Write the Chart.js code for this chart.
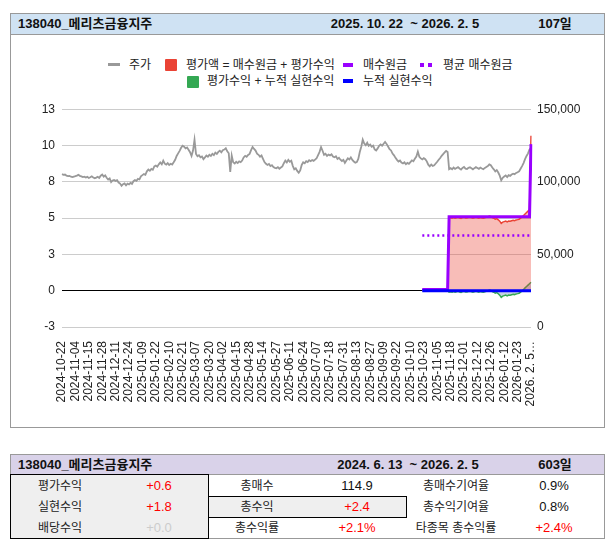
<!DOCTYPE html>
<html lang="ko">
<head>
<meta charset="utf-8">
<title>138040_메리츠금융지주</title>
<script src="https://cdn.jsdelivr.net/npm/chart.js@4.4.1/dist/chart.umd.min.js"></script>
<style>
  html, body { margin: 0; padding: 0; background: #fff; }
  body {
    width: 613px; height: 552px; position: relative; overflow: hidden;
    font-family: Arial, "Liberation Sans", "Noto Sans CJK KR", sans-serif;
    font-size: 12px; color: #222;
  }
  .box { position: absolute; box-sizing: border-box; }
  .t { position: absolute; white-space: nowrap; line-height: 16px; }
  .c { transform: translate(-50%, -50%); }
  .l { transform: translateY(-50%); }
  .b { font-weight: bold; font-size: 13px; color: #111; }
  .num { font-size: 13px; }
  .red { color: #ff0000; }
  .faint { color: #cccccc; }
  .blk { color: #111; }
  #chart { position: absolute; left: 11px; top: 95px; }
</style>
</head>
<body>

<!-- chart card -->
<div class="box" style="left:10px;top:13px;width:595px;height:415px;border:1px solid #999;"></div>
<div class="box" style="left:10px;top:13px;width:595px;height:22px;background:#cfe2f3;border:1px solid #999;"></div>
<span class="t b l" style="left:18px;top:24px;">138040_메리츠금융지주</span>
<span class="t b c" style="left:405px;top:24px;">2025. 10. 22&nbsp; ~ 2026. 2. 5</span>
<span class="t b c" style="left:555px;top:24px;">107일</span>

<!-- legend -->
<div class="box" style="left:108px;top:63px;width:12px;height:3px;background:#999;"></div>
<span class="t l" style="left:129px;top:65px;">주가</span>
<div class="box" style="left:165px;top:59px;width:12px;height:12px;background:#ea4335;border-radius:1px;"></div>
<span class="t l" style="left:186px;top:65px;">평가액 = 매수원금 + 평가수익</span>
<div class="box" style="left:343px;top:63px;width:10px;height:4px;background:#9900ff;"></div>
<span class="t l" style="left:363px;top:65px;">매수원금</span>
<div class="box" style="left:420px;top:63px;width:4px;height:4px;background:#9900ff;"></div>
<div class="box" style="left:428px;top:63px;width:4px;height:4px;background:#9900ff;"></div>
<span class="t l" style="left:443px;top:65px;">평균 매수원금</span>
<div class="box" style="left:187px;top:76px;width:12px;height:12px;background:#34a853;border-radius:1px;"></div>
<span class="t l" style="left:207px;top:81px;">평가수익 + 누적 실현수익</span>
<div class="box" style="left:343px;top:79px;width:10px;height:4px;background:#0000ff;"></div>
<span class="t l" style="left:363px;top:81px;">누적 실현수익</span>

<canvas id="chart" width="593" height="332"></canvas>

<!-- summary table -->
<div class="box" style="left:10px;top:454px;width:595px;height:85px;border:1px solid #999;"></div>
<div class="box" style="left:10px;top:454px;width:595px;height:21px;background:#d9d2e9;border:1px solid #999;"></div>
<div class="box" style="left:10px;top:474px;width:199px;height:65px;background:#efefef;border:1px solid #000;"></div>
<div class="box" style="left:208px;top:496px;width:199px;height:22px;background:#efefef;border:1px solid #000;"></div>
<span class="t b l" style="left:18px;top:464.5px;">138040_메리츠금융지주</span>
<span class="t b c" style="left:408px;top:464.5px;">2024. 6. 13&nbsp; ~ 2026. 2. 5</span>
<span class="t b c" style="left:555px;top:464.5px;">603일</span>

<span class="t c" style="left:60px;top:486px;">평가수익</span>
<span class="t c num red" style="left:159px;top:486px;">+0.6</span>
<span class="t c" style="left:257px;top:486px;">총매수</span>
<span class="t c num blk" style="left:357px;top:486px;">114.9</span>
<span class="t c" style="left:456px;top:486px;">총매수기여율</span>
<span class="t c num blk" style="left:554px;top:486px;">0.9%</span>

<span class="t c" style="left:60px;top:507px;">실현수익</span>
<span class="t c num red" style="left:159px;top:507px;">+1.8</span>
<span class="t c" style="left:257px;top:507px;">총수익</span>
<span class="t c num red" style="left:357px;top:507px;">+2.4</span>
<span class="t c" style="left:456px;top:507px;">총수익기여율</span>
<span class="t c num blk" style="left:554px;top:507px;">0.8%</span>

<span class="t c" style="left:60px;top:528px;">배당수익</span>
<span class="t c num faint" style="left:159px;top:528px;">+0.0</span>
<span class="t c" style="left:257px;top:528px;">총수익률</span>
<span class="t c num red" style="left:357px;top:528px;">+2.1%</span>
<span class="t c" style="left:456px;top:528px;">타종목 총수익률</span>
<span class="t c num red" style="left:554px;top:528px;">+2.4%</span>

<script>
// 1. tick labels (one date every 9 trading days)
const dateLabels = [
  '2024-10-22','2024-11-04','2024-11-15','2024-11-28','2024-12-11','2024-12-24',
  '2025-01-09','2025-01-22','2025-02-10','2025-02-21','2025-03-07','2025-03-20',
  '2025-04-02','2025-04-15','2025-04-28','2025-05-14','2025-05-27','2025-06-11',
  '2025-06-24','2025-07-07','2025-07-18','2025-07-31','2025-08-13','2025-08-27',
  '2025-09-09','2025-09-22','2025-10-10','2025-10-23','2025-11-05','2025-11-18',
  '2025-12-01','2025-12-12','2025-12-26','2026-01-12','2026-01-23','2026. 2. 5…'
];
const leftTicks = [-2.6, 0, 2.6, 5.2, 7.8, 10.4, 13];
const leftTickLabels = ['-3', '0', '3', '5', '8', '10', '13'];
const rightTicks = [0, 25000, 50000, 75000, 100000, 125000, 150000];
const rightTickLabels = ['0', '', '50,000', '', '100,000', '', '150,000'];

// 2. 주가 (daily close, right axis)
const price = [
  105300, 104800, 105000, 104200, 103900, 104100, 103500, 103200, 103600,
  103900, 104300, 104800, 104100, 103700, 103200, 103500, 102900, 103400,
  102600, 103100, 103800, 103000, 102400, 102900, 103500, 102700, 104200,
  105000, 103600, 104500, 102800, 101600, 102300, 99800, 100900, 101300,
  100600, 101100, 99500, 98800, 97300, 98400, 98900, 97600, 98800,
  98200, 99300, 98600, 100400, 101200, 100700, 102000, 101600, 103800,
  104600, 105300, 104800, 107200, 108400, 107600, 108900, 108300, 110600,
  111200, 110400, 112000, 113300, 112100, 114600, 112500, 111800, 112900,
  111600, 112400, 111900, 113500, 115200, 117800, 119600, 121300, 123400,
  124800, 124200, 123000, 123600, 122100, 120400, 117800, 121500, 129000,
  119200, 117600, 118300, 116900, 117400, 115600, 116800, 118100, 117300,
  118600, 117800, 119300, 118400, 120100, 119200, 120600, 121400, 120300,
  121800, 122200, 123100, 121000, 119600, 106800, 118000, 113400, 112600,
  113800, 112900, 114100, 113500, 114600, 116800, 117900, 117200, 118500,
  119200, 121800, 124000, 122600, 121500, 119400, 118600, 117300, 118100,
  115800, 113600, 112400, 111600, 112300, 110800, 111500, 110200, 109600,
  109300, 110100, 109000, 109800, 110600, 112800, 114600, 113400, 115100,
  113800, 114500, 111000, 108600, 109300, 107500, 106200, 107800, 111600,
  113400, 112800, 114200, 113600, 114900, 114200, 115000, 114400, 115300,
  116200, 118400, 120600, 123900, 121400, 118600, 119300, 117800, 118700,
  118200, 119000, 117400, 116900, 117600, 115800, 116600, 115200, 114300,
  115100, 113000, 114600, 116200, 115400, 116800, 115100, 114000, 113200,
  113600, 115800, 120500, 124200, 129000, 126400, 125200, 126900, 124800,
  125600, 124100, 124900, 122300, 121600, 123000, 124800, 125700, 124900,
  126200, 127400, 126100, 124300, 122500, 121600, 119400, 118200, 116500,
  115100, 113900, 114600, 113200, 112600, 113400, 112100, 113000, 112400,
  113600, 114800, 114200, 115900, 117400, 120800, 117200, 116100, 115400,
  116300, 115600, 114100, 111800, 110600, 111900, 110900, 111400, 112600,
  113800, 115200, 116400, 117900, 119100, 120200, 121300, 120600, 108700,
  109400, 108600, 109800, 108900, 109500, 110100, 109200, 108400, 109600,
  110200, 109100, 108800, 109700, 110000, 109300, 108600, 109400, 110100,
  109500, 108900, 109800, 109200, 108700, 109600, 110200, 110800, 112000,
  111400, 109800, 108600, 107200, 108100, 106400, 104200, 101000, 102800,
  103600, 104400, 103200, 104600, 104100, 105000, 105600, 105200, 106100,
  106600, 107200, 109000, 110800, 112900, 115600, 117800, 119600, 122300, 123200
];

// 3. holding series (left axis), from 2025-10-22 (index 242) to the end
const holdStart = 242;
const buyCost = [
  0.08, 0.08, 0.08, 0.08, 0.08, 0.08, 0.08, 0.08, 0.08,
  0.08, 0.08, 0.08, 0.08, 0.08, 0.08, 0.08, 0.08, 0.08,
  5.3, 5.3, 5.3, 5.3, 5.3, 5.3, 5.3, 5.3, 5.3, 5.3,
  5.3, 5.3, 5.3, 5.3, 5.3, 5.3, 5.3, 5.3, 5.3, 5.3,
  5.3, 5.3, 5.3, 5.3, 5.3, 5.3, 5.3, 5.3, 5.3, 5.3,
  5.3, 5.3, 5.3, 5.3, 5.3, 5.3, 5.3, 5.3, 5.3, 5.3,
  5.3, 5.3, 5.3, 5.3, 5.3, 5.3, 5.3, 5.3, 5.3, 5.3,
  5.3, 5.3, 5.3, 5.3, 5.3,
  10.5
];
const avgCost = [
  3.95, 3.95, 3.95, 3.95, 3.95, 3.95, 3.95, 3.95, 3.95, 3.95,
  3.95, 3.95, 3.95, 3.95, 3.95, 3.95, 3.95, 3.95, 3.95, 3.95,
  3.95, 3.95, 3.95, 3.95, 3.95, 3.95, 3.95, 3.95, 3.95, 3.95,
  3.95, 3.95, 3.95, 3.95, 3.95, 3.95, 3.95, 3.95, 3.95, 3.95,
  3.95, 3.95, 3.95, 3.95, 3.95, 3.95, 3.95, 3.95, 3.95, 3.95,
  3.95, 3.95, 3.95, 3.95, 3.95, 3.95, 3.95, 3.95, 3.95, 3.95,
  3.95, 3.95, 3.95, 3.95, 3.95, 3.95, 3.95, 3.95, 3.95, 3.95,
  3.95, 3.95, 3.95, 3.95
];
const evalValue = [
  0.08, 0.08, 0.08, 0.08, 0.08, 0.08, 0.08, 0.08, 0.08,
  0.08, 0.08, 0.08, 0.08, 0.08, 0.08, 0.08, 0.08, 0.08,
  5.19, 5.22, 5.19, 5.24, 5.20, 5.23, 5.26, 5.21, 5.18, 5.23,
  5.26, 5.21, 5.20, 5.24, 5.25, 5.22, 5.19, 5.22, 5.26, 5.23,
  5.20, 5.24, 5.21, 5.19, 5.23, 5.26, 5.29, 5.35, 5.32, 5.24,
  5.19, 5.12, 5.16, 5.08, 4.98, 4.82, 4.91, 4.95, 4.99, 4.93,
  4.99, 4.97, 5.01, 5.04, 5.02, 5.07, 5.09, 5.12, 5.20, 5.29,
  5.39, 5.50, 5.60, 5.70, 5.80,
  11.1
];
const totalGain = [
  0, 0, 0, 0, 0, 0, 0, 0, 0,
  0, 0, 0, 0, 0, 0, 0, 0, 0,
  -0.11, -0.08, -0.11, -0.06, -0.10, -0.07, -0.04, -0.09, -0.12, -0.07,
  -0.04, -0.09, -0.10, -0.06, -0.05, -0.08, -0.11, -0.08, -0.04, -0.07,
  -0.10, -0.06, -0.09, -0.11, -0.07, -0.04, -0.01, 0.05, 0.02, -0.06,
  -0.11, -0.18, -0.14, -0.22, -0.32, -0.48, -0.39, -0.35, -0.31, -0.37,
  -0.31, -0.33, -0.29, -0.26, -0.28, -0.23, -0.21, -0.18, -0.10, -0.01,
  0.09, 0.20, 0.30, 0.40, 0.50,
  0.60
];
const realized = [
  0, 0, 0, 0, 0, 0, 0, 0, 0, 0, 0, 0, 0, 0, 0, 0, 0, 0, 0, 0,
  0, 0, 0, 0, 0, 0, 0, 0, 0, 0, 0, 0, 0, 0, 0, 0, 0, 0, 0, 0,
  0, 0, 0, 0, 0, 0, 0, 0, 0, 0, 0, 0, 0, 0, 0, 0, 0, 0, 0, 0,
  0, 0, 0, 0, 0, 0, 0, 0, 0, 0, 0, 0, 0, 0
];

const pad = arr => new Array(holdStart).fill(null).concat(arr);
const categories = price.map((_, i) => (i % 9 === 0 ? dateLabels[i / 9] : ''));

Chart.defaults.font.family = 'Arial, "Liberation Sans", sans-serif';
Chart.defaults.font.size = 12;
Chart.defaults.color = '#222';

const lineBase = { pointRadius: 0, pointHoverRadius: 0, tension: 0, fill: false };

new Chart(document.getElementById('chart'), {
  type: 'line',
  data: {
    labels: categories,
    datasets: [
      { ...lineBase, label: '누적 실현수익', data: pad(realized), yAxisID: 'y',
        borderColor: '#0000ff', borderWidth: 3, order: 1 },
      { ...lineBase, label: '매수원금', data: pad(buyCost), yAxisID: 'y',
        borderColor: '#9900ff', borderWidth: 3, order: 2 },
      { ...lineBase, label: '평균 매수원금', data: pad(avgCost), yAxisID: 'y',
        borderColor: '#9900ff', borderWidth: 2.5, borderDash: [2, 3], order: 3 },
      { ...lineBase, label: '평가액 = 매수원금 + 평가수익', data: pad(evalValue), yAxisID: 'y',
        borderColor: '#ea4335', borderWidth: 1.5, fill: 'origin',
        backgroundColor: 'rgba(234, 67, 53, 0.35)', order: 4 },
      { ...lineBase, label: '평가수익 + 누적 실현수익', data: pad(totalGain), yAxisID: 'y',
        borderColor: '#34a853', borderWidth: 1.5, fill: 'origin',
        backgroundColor: 'rgba(90, 120, 180, 0.35)', order: 5 },
      { ...lineBase, label: '주가', data: price, yAxisID: 'y2',
        borderColor: '#999999', borderWidth: 1.8, order: 6 }
    ]
  },
  options: {
    responsive: false,
    animation: false,
    devicePixelRatio: 1,
    layout: { padding: { top: 11, left: 0, right: 0, bottom: 0 } },
    plugins: { legend: { display: false }, tooltip: { enabled: false } },
    scales: {
      x: {
        grid: { display: false },
        border: { display: false },
        afterBuildTicks: s => { s.ticks = s.ticks.filter(t => t.value % 9 === 0); },
        afterFit: s => { s.height = 100; },
        ticks: {
          autoSkip: false, minRotation: 90, maxRotation: 90, padding: 6,
          color: '#222', font: { size: 12 },
          callback: function (v) { return this.getLabelForValue(v); }
        }
      },
      y: {
        position: 'left',
        min: -2.6, max: 13,
        border: { display: false },
        afterBuildTicks: s => { s.ticks = leftTicks.map(v => ({ value: v })); },
        afterFit: s => { s.width = 51; },
        grid: {
          drawTicks: false,
          color: c => (c.tick && c.tick.value === 0 ? '#000000' : '#cccccc'),
          lineWidth: 1
        },
        ticks: {
          padding: 7, color: '#222',
          callback: (v, i) => leftTickLabels[i]
        }
      },
      y2: {
        position: 'right',
        min: 0, max: 150000,
        border: { display: false },
        grid: { display: false, drawTicks: false },
        afterBuildTicks: s => { s.ticks = rightTicks.map(v => ({ value: v })); },
        afterFit: s => { s.width = 73; },
        ticks: {
          padding: 6, color: '#222',
          callback: (v, i) => rightTickLabels[i]
        }
      }
    }
  }
});
</script>
</body>
</html>
